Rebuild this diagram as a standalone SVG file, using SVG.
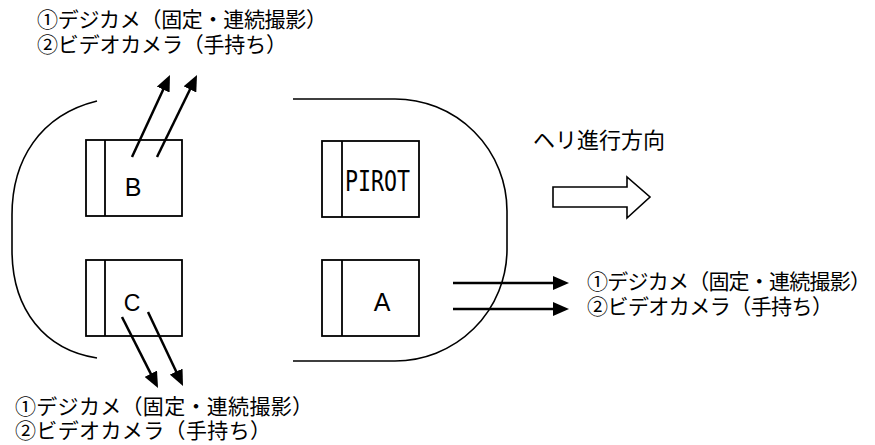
<svg xmlns="http://www.w3.org/2000/svg" width="875" height="445" viewBox="0 0 875 445">
<style>
.outline{fill:none;stroke:#000;stroke-width:1.6}
.box{fill:#fff;stroke:#000;stroke-width:1.8}
.conn{fill:none;stroke:#000;stroke-width:2.5}
.lbl{font-family:"Liberation Sans",Arial,sans-serif;fill:#000;text-anchor:middle}
.jp{font-family:"Liberation Serif","Noto Sans CJK JP",serif;font-size:21px;fill:#000}
.dir{font-family:"Noto Sans CJK JP","Liberation Sans",sans-serif;font-size:22px;fill:#000}
.mono{font-family:"DejaVu Sans Mono","Liberation Mono",monospace;font-size:28px;fill:#000}
</style>
<defs>
<marker id="ah" markerUnits="userSpaceOnUse" viewBox="0 0 16 14" refX="8" refY="7" markerWidth="16" markerHeight="14" orient="auto">
<path d="M0,0 L16,7 L0,14 z" fill="#000"/>
</marker>
</defs>
<rect width="875" height="445" fill="#fff"/>

<g id="fuselage">
<path class="outline" d="M97,101 C40,115 12,160 12,215 V250 C12,310 45,350 97,358"/>
<path class="outline" d="M293,99 H395 A112,112 0 0 1 507,211 V250 A112,112 0 0 1 395,361 H293"/>
</g>

<g id="node-B">
<rect class="box" x="86" y="140" width="96" height="76"/>
<line class="box" x1="105" y1="140" x2="105" y2="216"/>
<text class="lbl" x="133" y="196" font-size="25">B</text>
</g>

<g id="node-C">
<rect class="box" x="86" y="260" width="96" height="76"/>
<line class="box" x1="105" y1="260" x2="105" y2="336"/>
<text class="lbl" x="132" y="311" font-size="23">C</text>
</g>

<g id="node-PIROT">
<rect class="box" x="322" y="141" width="97" height="76"/>
<line class="box" x1="342" y1="141" x2="342" y2="217"/>
<text class="mono" x="345" y="191" textLength="65" lengthAdjust="spacingAndGlyphs">PIROT</text>
</g>

<g id="node-A">
<rect class="box" x="322" y="260" width="97" height="76"/>
<line class="box" x1="342" y1="260" x2="342" y2="336"/>
<text class="lbl" x="382" y="311" font-size="25">A</text>
</g>

<g id="direction">
<text class="dir" x="533" y="148">ヘリ進行方向</text>
<path class="outline" d="M553,187 H627 V177 L650,197 L627,218 V207 H553 Z"/>
</g>

<g id="connectors">
<line class="conn" x1="132" y1="157" x2="166.6" y2="82.3" marker-end="url(#ah)"/>
<line class="conn" x1="157" y1="157" x2="193.5" y2="82.2" marker-end="url(#ah)"/>
<line class="conn" x1="122" y1="317" x2="154.4" y2="380.9" marker-end="url(#ah)"/>
<line class="conn" x1="148" y1="312" x2="179.6" y2="378.8" marker-end="url(#ah)"/>
<line class="conn" x1="453" y1="283" x2="561" y2="283" marker-end="url(#ah)"/>
<line class="conn" x1="453" y1="309" x2="561" y2="309" marker-end="url(#ah)"/>
</g>

<g id="labels-top">
<text class="jp" x="37" y="27" textLength="290" lengthAdjust="spacing">①デジカメ（固定・連続撮影）</text>
<text class="jp" x="37" y="52" textLength="250" lengthAdjust="spacing">②ビデオカメラ（手持ち）</text>
</g>
<g id="labels-right">
<text class="jp" x="587" y="289" textLength="284" lengthAdjust="spacing">①デジカメ（固定・連続撮影）</text>
<text class="jp" x="587" y="314" textLength="246" lengthAdjust="spacing">②ビデオカメラ（手持ち）</text>
</g>
<g id="labels-bottom">
<text class="jp" x="15" y="414" textLength="298" lengthAdjust="spacing">①デジカメ（固定・連続撮影）</text>
<text class="jp" x="15" y="438" textLength="256" lengthAdjust="spacing">②ビデオカメラ（手持ち）</text>
</g>
</svg>
